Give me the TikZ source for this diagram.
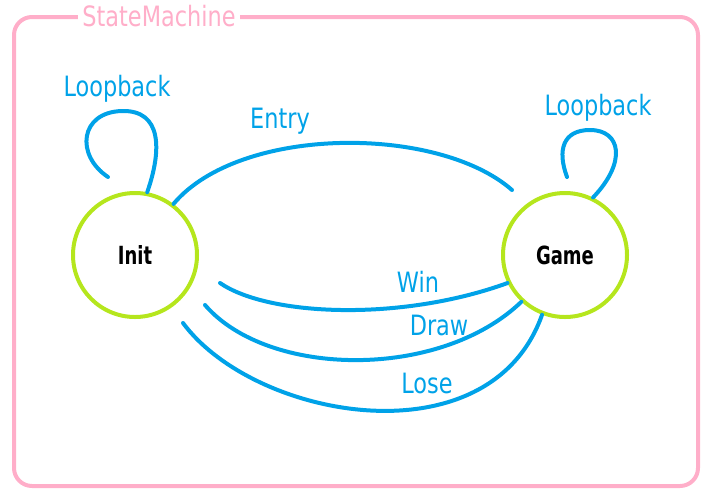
\documentclass[tikz,border=0pt]{standalone}
\usepackage{fontspec}
\setmainfont{DejaVu Sans}[FakeStretch=0.8]
\newfontfamily\statefont{DejaVu Sans}[FakeStretch=0.72]
\definecolor{pinkc}{HTML}{FFAEC9}
\definecolor{bluec}{HTML}{00A2E8}
\definecolor{greenc}{HTML}{B5E61D}
\tikzset{
  statenode/.style={circle, draw=greenc, line width=4pt, minimum size=124pt, inner sep=0pt, font=\statefont\bfseries\fontsize{25}{28}\selectfont, text=black},
  edgelabel/.style={text=bluec, font=\fontsize{28}{32}\selectfont, inner sep=0pt},
  edge/.style={draw=bluec, line width=4pt, line cap=round},
}
\begin{document}
\begin{tikzpicture}[x=1pt,y=-1pt]
\useasboundingbox (0,0) rectangle (709,499);
% frame
\draw[pinkc, line width=4pt, rounded corners=18pt] (14,17) rectangle (698,486);
\node[fill=white, text=pinkc, font=\fontsize{28}{32}\selectfont, inner sep=4pt] (title) at (159,16) {StateMachine};
% states
\node[statenode] (init) at (135,255) {Init};
\node[statenode] (game) at (565,255) {Game};
% coordinates of free ends
\coordinate (initloopstart) at (108,177);
\coordinate (gameloopstart) at (567,177);
\coordinate (entryend) at (512,190);
\coordinate (winstart) at (220,283);
\coordinate (drawstart) at (205,305);
\coordinate (losestart) at (183,323);
% loops
\draw[edge] (initloopstart) .. controls (75,155) and (80,112) .. (122,111) .. controls (162,110) and (162,150) .. (init.79);
\draw[edge] (gameloopstart) .. controls (557,150) and (563,130) .. (590,130) .. controls (621,130) and (627,162) .. (game.64);
% transitions
\draw[edge] (init.53) .. controls (240,125) and (438,125) .. (entryend);
\draw[edge] (winstart) .. controls (268,316) and (400,322) .. (game.206);
\draw[edge] (drawstart) .. controls (268,378) and (440,380) .. (game.227);
\draw[edge] (losestart) .. controls (255,420) and (490,462) .. (game.249);
% labels
\node[edgelabel] (lbinit) at (117,89) {Loopback};
\node[edgelabel] (lbgame) at (598,108) {Loopback};
\node[edgelabel] (lentry) at (280,121) {Entry};
\node[edgelabel] (lwin) at (418,282) {Win};
\node[edgelabel] (ldraw) at (439,325) {Draw};
\node[edgelabel] (llose) at (427,383) {Lose};
\end{tikzpicture}
\end{document}
